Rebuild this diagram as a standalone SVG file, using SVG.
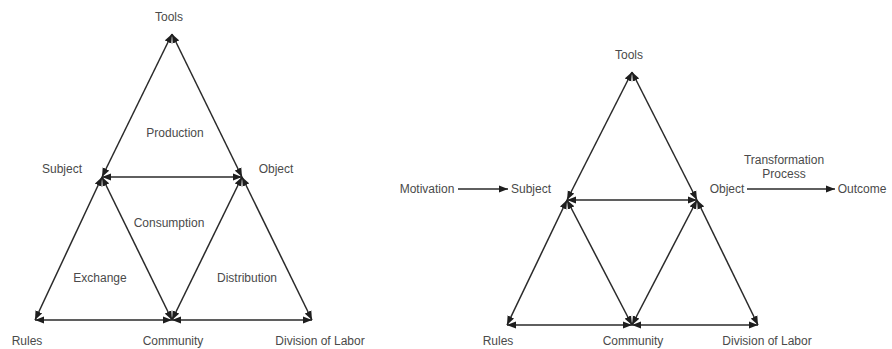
<svg xmlns="http://www.w3.org/2000/svg" width="892" height="349" viewBox="0 0 892 349">
<defs>
<marker id="ah" viewBox="0 0 10 8" refX="10" refY="4" markerWidth="9" markerHeight="8" markerUnits="userSpaceOnUse" orient="auto-start-reverse">
<path d="M0,0 L10,4 L0,8 z" fill="#1e1e1e"/>
</marker>
</defs>
<style>
.t{font-family:"Liberation Sans",Arial,sans-serif;font-size:12px;fill:#4a4a4a;text-anchor:middle}
.c line{stroke:#2a2a2a;stroke-width:1.5;marker-start:url(#ah);marker-end:url(#ah)}
.s line{stroke:#2a2a2a;stroke-width:1.5;marker-end:url(#ah)}
</style>
<rect width="892" height="349" fill="#ffffff"/>
<g id="connectors">
<g class="c">
<line x1="172" y1="34" x2="102" y2="177"/>
<line x1="172" y1="34" x2="242" y2="177"/>
<line x1="102" y1="177" x2="242" y2="177"/>
<line x1="102" y1="177" x2="35" y2="320"/>
<line x1="102" y1="177" x2="172" y2="320"/>
<line x1="242" y1="177" x2="172" y2="320"/>
<line x1="242" y1="177" x2="312" y2="320"/>
<line x1="35" y1="320" x2="172" y2="320"/>
<line x1="172" y1="320" x2="312" y2="320"/>
<line x1="632" y1="72" x2="567" y2="200"/>
<line x1="632" y1="72" x2="697" y2="200"/>
<line x1="567" y1="200" x2="697" y2="200"/>
<line x1="567" y1="200" x2="507" y2="325"/>
<line x1="567" y1="200" x2="632" y2="325"/>
<line x1="697" y1="200" x2="632" y2="325"/>
<line x1="697" y1="200" x2="758" y2="325"/>
<line x1="507" y1="325" x2="632" y2="325"/>
<line x1="632" y1="325" x2="758" y2="325"/>
</g>
<g class="s">
<line x1="458" y1="189" x2="508" y2="189"/>
<line x1="747" y1="189" x2="835" y2="189"/>
</g>
</g>
<g id="left-tools"><text class="t" x="169" y="21">Tools</text></g>
<g id="left-subject"><text class="t" x="62" y="173">Subject</text></g>
<g id="left-object"><text class="t" x="276" y="173">Object</text></g>
<g id="left-rules"><text class="t" x="27" y="345">Rules</text></g>
<g id="left-community"><text class="t" x="173" y="345">Community</text></g>
<g id="left-division"><text class="t" x="320" y="345">Division of Labor</text></g>
<g id="left-production"><text class="t" x="175" y="137">Production</text></g>
<g id="left-consumption"><text class="t" x="169" y="227">Consumption</text></g>
<g id="left-exchange"><text class="t" x="100" y="282">Exchange</text></g>
<g id="left-distribution"><text class="t" x="247" y="282">Distribution</text></g>
<g id="right-tools"><text class="t" x="629" y="59">Tools</text></g>
<g id="right-motivation"><text class="t" x="427" y="193">Motivation</text></g>
<g id="right-subject"><text class="t" x="531" y="193">Subject</text></g>
<g id="right-object"><text class="t" x="727" y="193">Object</text></g>
<g id="right-transformation"><text class="t" x="784" y="164">Transformation</text><text class="t" x="784" y="178">Process</text></g>
<g id="right-outcome"><text class="t" x="862" y="193">Outcome</text></g>
<g id="right-rules"><text class="t" x="498" y="345">Rules</text></g>
<g id="right-community"><text class="t" x="633" y="345">Community</text></g>
<g id="right-division"><text class="t" x="767" y="345">Division of Labor</text></g>
</svg>
